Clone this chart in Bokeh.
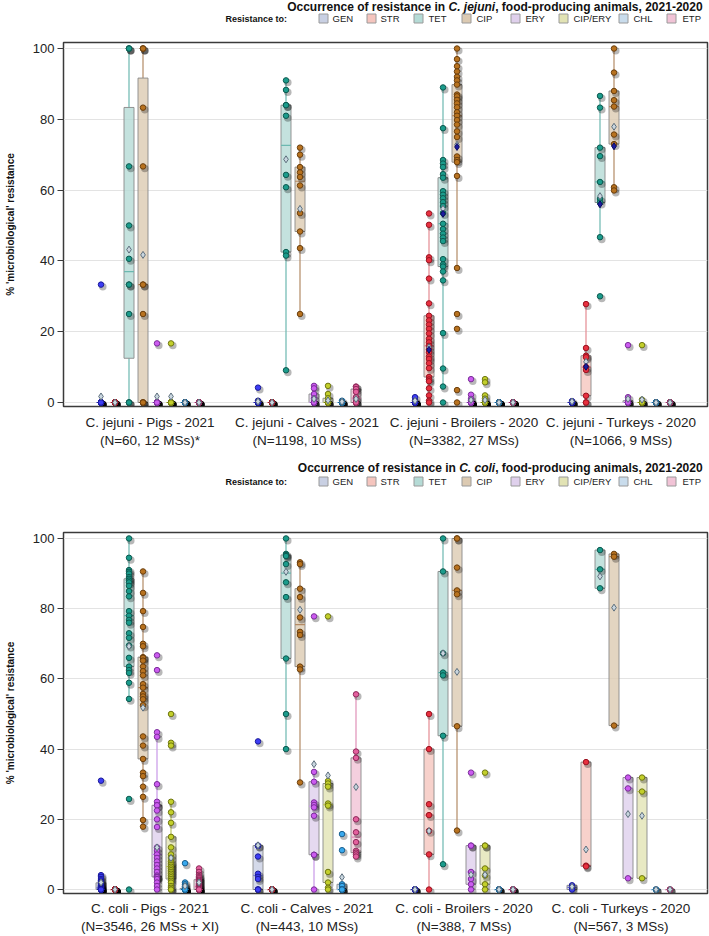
import math
from bokeh.plotting import figure
from bokeh.models import Range1d, FixedTicker
from bokeh.layouts import column
from bokeh.embed import file_html
from bokeh.resources import INLINE
from bokeh.core.properties import value

FONT = "Liberation Sans"
NAN = float("nan")

DRUGS = ["GEN", "STR", "TET", "CIP", "ERY", "CIP/ERY", "CHL", "ETP"]

JEJ_LABELS = ["C. jejuni - Pigs - 2021\n(N=60, 12 MSs)*",
              "C. jejuni - Calves - 2021\n(N=1198, 10 MSs)",
              "C. jejuni - Broilers - 2020\n(N=3382, 27 MSs)",
              "C. jejuni - Turkeys - 2020\n(N=1066, 9 MSs)"]
COLI_LABELS = ["C. coli - Pigs - 2021\n(N=3546, 26 MSs + XI)",
               "C. coli - Calves - 2021\n(N=443, 10 MSs)",
               "C. coli - Broilers - 2020\n(N=388, 7 MSs)",
               "C. coli - Turkeys - 2020\n(N=567, 3 MSs)"]

# ---------------- C. jejuni ----------------
JEJ_PIGS = [
    [33.3, 0, 0, 0, 0, 0, 0, 0, 0, 0, 0, 0],
    [0, 0, 0, 0, 0, 0, 0, 0, 0, 0, 0, 0],
    [100, 100, 100, 66.7, 50, 40.6, 33.3, 33.3, 25, 0, 0, 0],
    [100, 100, 100, 83.3, 66.7, 33.3, 33.3, 25, 0, 0, 0, 0],
    [16.7, 0, 0, 0, 0, 0, 0, 0, 0, 0, 0, 0],
    [16.7, 0, 0, 0, 0, 0, 0, 0, 0, 0, 0, 0],
    [0, 0, 0, 0, 0, 0, 0, 0, 0, 0, 0, 0],
    [0, 0, 0, 0, 0, 0, 0, 0, 0, 0, 0, 0],
]
JEJ_PIGS_MEAN = [1.7, 0, 43.2, 41.7, 1.7, 1.7, 0, 0]
JEJ_PIGS_EU = [NAN, NAN, NAN, NAN, NAN, NAN, NAN, NAN]

JEJ_CALVES = [
    [4.2, 0.5, 0, 0, 0, 0, 0, 0, 0, 0],
    [0, 0, 0, 0, 0, 0, 0, 0, 0, 0],
    [91.0, 88.3, 84.0, 84.0, 81.0, 64.3, 60.8, 42.5, 41.5, 9.1],
    [72.0, 70.0, 66.5, 65.0, 63.7, 61.3, 53.5, 48.3, 43.6, 25.0],
    [4.7, 4.0, 2.4, 1.2, 0, 0, 0, 0, 0, 0],
    [4.7, 2.4, 1.2, 0, 0, 0, 0, 0, 0, 0],
    [0.5, 0, 0, 0, 0, 0, 0, 0, 0, 0],
    [4.5, 4.4, 3.8, 3.0, 1.5, 0.8, 0, 0, 0, 0],
]
JEJ_CALVES_MEAN = [0.3, 0, 68.7, 54.7, 1.0, 0.6, 0.2, 1.0]
JEJ_CALVES_EU = [NAN, NAN, NAN, NAN, NAN, NAN, NAN, NAN]

JEJ_BROILERS = [
    [1.5, 0.5, 0, 0, 0, 0, 0, 0, 0, 0, 0, 0, 0, 0, 0, 0, 0, 0, 0, 0, 0, 0, 0, 0, 0, 0, 0],
    [53.4, 50.2, 41.0, 40.2, 35.0, 28.0, 24.5, 23.2, 22.0, 20.8, 19.5, 18.0, 17.0, 16.0,
     15.0, 14.2, 13.0, 12.3, 11.1, 9.7, 7.2, 6.5, 6.0, 4.0, 2.0, 0.5, 0.0],
    [89.0, 77.5, 68.5, 67.5, 66.5, 64.5, 63.5, 59.7, 58.7, 57.7, 56.6, 55.5, 53.5, 50.5,
     49.0, 47.7, 46.6, 45.6, 40.5, 39.0, 38.4, 37.0, 34.5, 19.6, 9.6, 4.5, 0.0],
    [100, 97.0, 95.0, 93.5, 92.0, 91.0, 89.8, 87.0, 86.5, 85.5, 84.5, 83.4, 82.0, 81.0,
     79.8, 78.5, 76.6, 75.0, 69.5, 68.5, 67.9, 64.0, 38.0, 25.0, 20.8, 3.5, 0.0],
    [6.6, 2.2, 1.0, 0.5, 0, 0, 0, 0, 0, 0, 0, 0, 0, 0, 0, 0, 0, 0, 0, 0, 0, 0, 0, 0, 0, 0, 0],
    [6.6, 5.7, 2.0, 1.1, 0.5, 0, 0, 0, 0, 0, 0, 0, 0, 0, 0, 0, 0, 0, 0, 0, 0, 0, 0, 0, 0, 0, 0],
    [0, 0, 0, 0, 0, 0, 0, 0, 0, 0, 0, 0, 0, 0, 0, 0, 0, 0, 0, 0, 0, 0, 0, 0, 0, 0, 0],
    [0, 0, 0, 0, 0, 0, 0, 0, 0, 0, 0, 0, 0, 0, 0, 0, 0, 0, 0, 0, 0, 0, 0, 0, 0, 0, 0],
]
JEJ_BROILERS_MEAN = [0.5, 15.6, 54.7, 72.8, 0.7, 0.7, 0, 0]
JEJ_BROILERS_EU = [NAN, 14.9, 53.3, 72.2, NAN, NAN, NAN, NAN]

JEJ_TURKEYS = [
    [0.4, 0, 0, 0, 0, 0, 0, 0, 0],
    [27.8, 15.4, 13.2, 12.8, 10.0, 9.2, 1.9, 0, 0],
    [86.6, 83.3, 72.0, 69.6, 62.3, 57.5, 56.5, 46.7, 30.0],
    [100, 93.2, 88.0, 85.4, 83.6, 75.7, 73.0, 60.8, 59.9],
    [16.2, 1.5, 0.5, 0, 0, 0, 0, 0, 0],
    [16.2, 0.8, 0, 0, 0, 0, 0, 0, 0],
    [0, 0, 0, 0, 0, 0, 0, 0, 0],
    [0, 0, 0, 0, 0, 0, 0, 0, 0],
]
JEJ_TURKEYS_MEAN = [0.3, 11.5, 58.3, 77.9, 1.0, 0.8, 0, 0]
JEJ_TURKEYS_EU = [NAN, 10.1, 56.0, 72.4, NAN, NAN, NAN, NAN]

# ---------------- C. coli ----------------
COLI_PIGS = [
    [31.0, 4.1, 3.6, 3.0, 2.6, 2.2, 1.9, 1.6, 1.3, 1.1, 0.9, 0.8, 0.6, 0.5, 0.4, 0.3, 0.2, 0.1,
     0, 0, 0, 0, 0, 0, 0, 0, 0],
    [0, 0, 0, 0, 0, 0, 0, 0, 0, 0, 0, 0, 0, 0, 0, 0, 0, 0, 0, 0, 0, 0, 0, 0, 0, 0, 0],
    [100, 94.5, 91.0, 90.5, 90.0, 89.0, 88.5, 88.0, 87.5, 86.5, 85.0, 83.5, 79.3, 78.0,
     76.8, 76.0, 73.0, 71.7, 69.5, 66.0, 63.5, 62.5, 61.7, 58.9, 54.3, 25.8, 0],
    [90.6, 84.5, 79.3, 74.8, 70.0, 69.3, 66.2, 66.0, 65.2, 63.5, 62.2, 61.0, 58.5, 57.5,
     55.7, 55.0, 54.2, 52.5, 43.6, 41.0, 37.2, 33.3, 32.3, 29.3, 26.4, 19.8, 17.9],
    [66.7, 62.5, 44.8, 43.5, 30.0, 25.0, 24.0, 24.0, 22.5, 20.0, 17.8, 12.0, 11.0, 10.0,
     9.0, 8.0, 7.0, 6.0, 5.0, 4.0, 3.6, 3.6, 3.5, 3.0, 2.0, 1.0, 0],
    [50.0, 41.8, 41.0, 25.0, 22.0, 19.0, 15.0, 12.0, 10.0, 9.0, 8.0, 7.5, 7.0, 6.5,
     6.0, 5.5, 5.0, 4.5, 4.0, 3.5, 3.0, 2.5, 2.0, 1.0, 0.5, 0, 0],
    [7.5, 2.0, 1.5, 1.0, 0.8, 0.5, 0.3, 0, 0, 0, 0, 0, 0, 0, 0, 0, 0, 0, 0, 0, 0, 0, 0, 0, 0, 0, 0],
    [6.0, 5.0, 4.2, 3.8, 3.5, 3.2, 2.8, 2.5, 2.2, 1.8, 1.5, 1.2, 1.0, 0.8, 0.5, 0.3,
     0, 0, 0, 0, 0, 0, 0, 0, 0, 0, 0],
]
COLI_PIGS_MEAN = [2.0, 0, 69.3, 51.8, 12.0, 9.0, 1.0, 2.0]
COLI_PIGS_EU = [NAN, NAN, NAN, NAN, NAN, NAN, NAN, NAN]

COLI_CALVES = [
    [42.2, 12.5, 12.5, 9.4, 4.5, 3.6, 3.0, 0, 0, 0],
    [0, 0, 0, 0, 0, 0, 0, 0, 0, 0],
    [100, 95.6, 95.3, 95.0, 92.7, 87.5, 83.3, 65.8, 50.0, 40.0],
    [93.2, 92.7, 85.7, 83.3, 77.5, 73.4, 72.5, 63.5, 62.7, 30.5],
    [77.8, 33.5, 30.7, 24.8, 24.1, 23.4, 21.0, 9.9, 9.9, 0],
    [77.8, 30.9, 30.2, 29.3, 24.5, 23.9, 5.0, 2.0, 0.5, 0],
    [15.8, 11.2, 1.5, 1.0, 0, 0, 0, 0, 0, 0],
    [55.6, 39.3, 37.5, 20.0, 16.3, 13.5, 11.0, 10.5, 10.0, 9.4],
]
COLI_CALVES_MEAN = [12.6, 0, 90.5, 79.7, 35.7, 32.5, 3.5, 29.2]
COLI_CALVES_EU = [NAN, NAN, NAN, NAN, NAN, NAN, NAN, NAN]

COLI_BROILERS = [
    [0, 0, 0, 0, 0, 0, 0],
    [50.0, 40.0, 24.3, 21.2, 16.7, 10.0, 0],
    [100, 90.6, 67.3, 61.8, 61.0, 43.8, 7.2],
    [100, 100, 91.7, 85.2, 84.1, 46.5, 16.8],
    [33.3, 12.5, 12.5, 5.0, 3.0, 1.5, 0],
    [33.3, 12.5, 12.5, 6.0, 4.0, 1.5, 0],
    [0, 0, 0, 0, 0, 0, 0],
    [0, 0, 0, 0, 0, 0, 0],
]
COLI_BROILERS_MEAN = [0, 16.7, 67.3, 62.0, 4.2, 4.2, 0, 0]
COLI_BROILERS_EU = [NAN, NAN, NAN, NAN, NAN, NAN, NAN, NAN]

COLI_TURKEYS = [
    [1.2, 0.6, 0],
    [36.3, 6.8, 6.6],
    [96.7, 91.2, 85.8],
    [95.6, 94.8, 46.7],
    [31.9, 28.8, 3.2],
    [31.9, 27.9, 3.2],
    [0, 0, 0],
    [0, 0, 0],
]
COLI_TURKEYS_MEAN = [0.8, 11.4, 89.2, 80.3, 21.5, 21.0, 0, 0]
COLI_TURKEYS_EU = [NAN, NAN, NAN, NAN, NAN, NAN, NAN, NAN]

Y_TICKS = [0, 20, 40, 60, 80, 100]

# ---------------- styling ----------------
PT_FILL = ["#3d3df5", "#e8303f", "#1b9c8c", "#b8721f", "#cc5bf0", "#c3cf2b", "#39a9ee", "#e4609e"]
PT_LINE = ["#1a1a99", "#9a1422", "#0d5a50", "#6b3f0e", "#7a2e99", "#6f7712", "#1a5f8e", "#8e2a5a"]
BOX_FILL = ["#c9d0e3", "#f5c5be", "#b5dbd6", "#dccab2", "#dfd0ec", "#e2e3b4", "#c9dcec", "#f1c3d6"]
WHISK = ["#8080d0", "#e48a92", "#6cb8b0", "#b38a65", "#c898e8", "#bcc460", "#80c0ea", "#e090b8"]

W = 709
BORDER_L = 63
BORDER_R = 2
FRAME_W = W - BORDER_L - BORDER_R
FRAME_H = 364
PX_PER_UNIT = 157.0
XMIN = -(149.5 - BORDER_L) / PX_PER_UNIT
XMAX = XMIN + FRAME_W / PX_PER_UNIT
YMIN, YMAX = -1.13, 101.7
STEP = 14.0 / PX_PER_UNIT
BOX_W = 10.0 / PX_PER_UNIT
PXY = FRAME_H / (YMAX - YMIN)


def sas_pctl(vals, p):
    v = sorted(vals)
    n = len(v)
    q = n * p
    j = int(math.floor(q + 1e-9))
    g = q - j
    if abs(g) < 1e-9:
        return (v[j - 1] + v[j]) / 2.0
    return v[j]


def panel(groups, means, eus, labels, height, bottom, standoff):
    p = figure(width=W, height=height, x_range=Range1d(XMIN, XMAX), y_range=Range1d(YMIN, YMAX),
               output_backend="svg", toolbar_location=None,
               min_border_left=BORDER_L, min_border_right=BORDER_R, min_border_top=4,
               min_border_bottom=bottom,
               background_fill_color="white", border_fill_color="white",
               outline_line_color="#3a3a3a", outline_line_width=1.5)
    wx0, wy0, wx1, wy1, wc = [], [], [], [], []
    bl, br, bb, bt, bf = [], [], [], [], []
    mx0, mx1, my, mc = [], [], [], []
    px, py, pf, pl = [], [], [], []
    ax, ay, ex, ey = [], [], [], []
    for gi, grp in enumerate(groups):
        for di, vals in enumerate(grp):
            x = gi + (di - 3.5) * STEP
            q1 = sas_pctl(vals, 0.25)
            med = sas_pctl(vals, 0.5)
            q3 = sas_pctl(vals, 0.75)
            iqr = q3 - q1
            lo = min(v for v in vals if v >= q1 - 1.5 * iqr)
            hi = max(v for v in vals if v <= q3 + 1.5 * iqr)
            wx0 += [x, x]; wx1 += [x, x]; wy0 += [lo, q3]; wy1 += [q1, hi]; wc += [WHISK[di]] * 2
            bl.append(x - BOX_W / 2); br.append(x + BOX_W / 2); bb.append(q1); bt.append(q3)
            bf.append(BOX_FILL[di])
            mx0.append(x - BOX_W / 2); mx1.append(x + BOX_W / 2); my.append(med); mc.append(WHISK[di])
            for v in vals:
                px.append(x); py.append(v); pf.append(PT_FILL[di]); pl.append(PT_LINE[di])
            ax.append(x); ay.append(means[gi][di])
            if not math.isnan(eus[gi][di]):
                ex.append(x); ey.append(eus[gi][di])

    p.segment(x0=wx0, y0=wy0, x1=wx1, y1=wy1, line_color=wc, line_width=1.2)
    p.quad(left=bl, right=br, bottom=bb, top=bt, fill_color=bf, fill_alpha=0.8,
           line_color="#8a8a8a", line_alpha=0.9, line_width=1)
    p.segment(x0=mx0, y0=my, x1=mx1, y1=my, line_color=mc, line_width=1.2)
    sdx = 1.8 / PX_PER_UNIT
    sdy = 2.2 / PXY
    p.scatter(x=[a + sdx for a in px], y=[b - sdy for b in py], size=7.5, marker="circle",
              fill_color="black", fill_alpha=0.28, line_color=None)
    p.scatter(x=px, y=py, size=5.5, marker="circle", fill_color=pf, line_color=pl, line_width=1)
    p.scatter(x=ax, y=ay, size=7, marker="diamond", fill_color="#c9d6df", line_color="#5c6e7c",
              line_width=1)
    if ex:
        p.scatter(x=ex, y=ey, size=7, marker="diamond", fill_color="#1c1ca0", line_color="#0c0c60",
                  line_width=1)

    p.xgrid.visible = False
    p.ygrid.grid_line_color = "#e3e3e3"
    p.ygrid.grid_line_width = 1
    p.ygrid.ticker = FixedTicker(ticks=Y_TICKS)

    ya = p.yaxis[0]
    ya.ticker = FixedTicker(ticks=Y_TICKS)
    ya.major_label_text_font = FONT
    ya.major_label_text_font_size = "13px"
    ya.major_label_text_color = "#222222"
    ya.major_tick_out = 6
    ya.major_tick_in = 0
    ya.minor_tick_line_color = None
    ya.major_label_standoff = 3
    ya.axis_line_color = "#3a3a3a"
    ya.major_tick_line_color = "#3a3a3a"
    ya.axis_label = "% 'microbiological' resistance"
    ya.axis_label_text_font = FONT
    ya.axis_label_text_font_style = "bold"
    ya.axis_label_text_font_size = "10px"
    ya.axis_label_text_color = "#111111"
    ya.axis_label_standoff = 14

    xa = p.xaxis[0]
    xa.ticker = FixedTicker(ticks=[0, 1, 2, 3])
    xa.major_label_overrides = {i: labels[i] for i in range(4)}
    xa.major_label_text_font = FONT
    xa.major_label_text_font_size = "13.5px"
    xa.major_label_text_color = "#222222"
    xa.major_tick_line_color = None
    xa.minor_tick_line_color = None
    xa.major_tick_out = 0
    xa.major_tick_in = 0
    xa.major_label_standoff = standoff
    xa.axis_line_color = "#3a3a3a"
    return p


def header(height, ty, ly, italic, italic_x):
    h = figure(width=W, height=height, x_range=Range1d(BORDER_L, W - BORDER_R),
               y_range=Range1d(height, 0),
               output_backend="svg", toolbar_location=None,
               min_border_left=BORDER_L, min_border_right=BORDER_R, min_border_top=0,
               min_border_bottom=0,
               x_axis_type=None, y_axis_type=None, outline_line_color=None,
               background_fill_color="white", border_fill_color="white")
    h.grid.visible = False
    common = dict(text_font=value(FONT), text_font_size="12px", text_baseline="middle",
                  text_color="#111111")
    h.text(x=[italic_x - 3.3], y=[ty], text=["Occurrence of resistance in"], text_align="right",
           text_font_style="bold", **common)
    h.text(x=[italic_x], y=[ty], text=[italic], text_align="left", text_font_style="bold italic",
           **common)
    h.text(x=[494.7], y=[ty], text=[", food-producing animals, 2021-2020"], text_align="left",
           text_font_style="bold", **common)
    h.text(x=[225], y=[ly], text=["Resistance to:"], text_align="left", text_font_style="bold",
           text_font=value(FONT), text_font_size="9px", text_baseline="middle", text_color="#111111")
    sw_x = [323, 371, 418, 466, 515, 563, 623, 671]
    tx_x = [332, 380, 428, 476, 525, 573, 633, 682]
    h.rect(x=sw_x, y=[ly] * 8, width=9, height=9, fill_color=BOX_FILL, line_color="#9a9a9a",
           line_width=1)
    h.text(x=tx_x, y=[ly] * 8, text=DRUGS, text_align="left", text_font=value(FONT),
           text_font_size="9.5px", text_baseline="middle", text_color="#222222")
    return h


h1 = header(38, 6, 18, "C. jejuni", 448.0)
p1 = panel([JEJ_PIGS, JEJ_CALVES, JEJ_BROILERS, JEJ_TURKEYS],
           [JEJ_PIGS_MEAN, JEJ_CALVES_MEAN, JEJ_BROILERS_MEAN, JEJ_TURKEYS_MEAN],
           [JEJ_PIGS_EU, JEJ_CALVES_EU, JEJ_BROILERS_EU, JEJ_TURKEYS_EU],
           JEJ_LABELS, 422, 54, 8)
h2 = header(68, 7, 21, "C. coli", 458.7)
p2 = panel([COLI_PIGS, COLI_CALVES, COLI_BROILERS, COLI_TURKEYS],
           [COLI_PIGS_MEAN, COLI_CALVES_MEAN, COLI_BROILERS_MEAN, COLI_TURKEYS_MEAN],
           [COLI_PIGS_EU, COLI_CALVES_EU, COLI_BROILERS_EU, COLI_TURKEYS_EU],
           COLI_LABELS, 408, 40, 7)

layout = column(h1, p1, h2, p2, spacing=0)
open("out.html", "w").write(file_html(layout, INLINE))
